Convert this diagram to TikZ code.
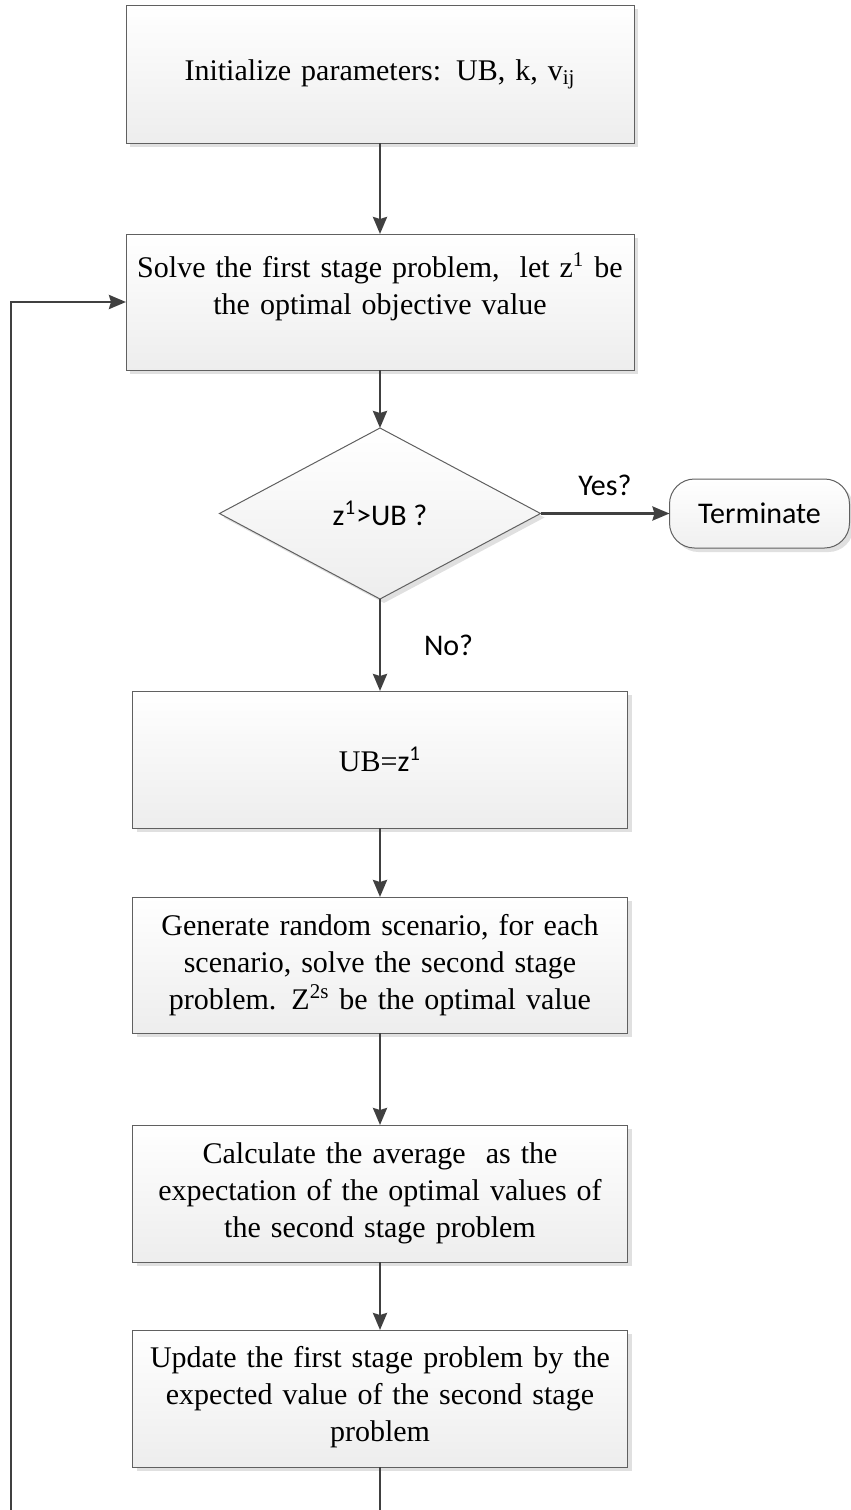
\documentclass[tikz,border=0pt]{standalone}
\usepackage{fontspec}
\setmainfont{Liberation Serif}
\newfontfamily\calibri{Carlito}
\usetikzlibrary{shapes.geometric, arrows.meta, shadows, calc, positioning}

\definecolor{linegray}{HTML}{404040}
\definecolor{bordergray}{HTML}{606060}

\begin{document}
\begin{tikzpicture}[node distance=1pt, outer sep=0pt, font=\fontsize{15}{18.5}\selectfont]

\tikzstyle{box}=[rectangle, draw=bordergray, line width=0.5pt, top color=white, bottom color=black!7, general shadow={fill=black!12, shadow xshift=2pt, shadow yshift=-2pt}, align=center, inner sep=2pt]
\tikzstyle{widebox}=[box, minimum height=68pt, text width=250pt]
\tikzstyle{normalbox}=[box, minimum height=68.5pt, text width=243.5pt]
\tikzstyle{decision}=[diamond, draw=bordergray, line width=0.5pt, top color=white, bottom color=black!7, general shadow={fill=black!12, shadow xshift=2pt, shadow yshift=-2pt}, aspect=1.88, minimum width=160.5pt, minimum height=85.5pt, inner sep=0pt, font=\calibri\fontsize{15}{18}\selectfont]
\tikzstyle{stopbox}=[rectangle, rounded corners=12.5pt, draw=bordergray, line width=0.5pt, top color=white, bottom color=black!6, general shadow={fill=black!12, shadow xshift=2pt, shadow yshift=-2pt}, minimum width=90pt, minimum height=34.5pt, inner sep=0pt, font=\calibri\fontsize{15}{18}\selectfont]
\tikzstyle{answer}=[inner sep=0pt, font=\calibri\fontsize{15}{18}\selectfont]
\tikzstyle{arrow}=[draw=linegray, line width=1.4pt, -{Stealth[length=8.5pt, width=7pt, inset=1pt]}]

\useasboundingbox (0,0) rectangle (425.5pt,-755pt);
\clip (0,0) rectangle (425.5pt,-755pt);

\node[widebox, minimum height=69pt] (init) at (190pt,-37pt) {Initialize parameters: UB, k, v\textsubscript{ij}};
\node[widebox] (solve) [below = 45.5pt of init] {Solve the first stage problem,\ \ let z\textsuperscript{1} be\\the optimal objective value\\\mbox{}};
\node[decision] (check) [below = 29pt of solve] {z\textsuperscript{1}>UB ?};
\node[stopbox] (stop) [right = 64.5pt of check] {Terminate};
\node[normalbox] (setub) [below = 46pt of check] {UB={\calibri z\textsuperscript{1}}};
\node[normalbox, minimum height=68pt] (scen) [below = 34.5pt of setub] {Generate random scenario, for each\\scenario, solve the second stage\\problem. Z\textsuperscript{2s} be the optimal value};
\node[normalbox] (avg) [below = 46pt of scen] {Calculate the average\ \ as the\\expectation of the optimal values of\\the second stage problem};
\node[normalbox] (update) [below = 34pt of avg] {Update the first stage problem by the\\expected value of the second stage\\problem\\[-13.5pt]\mbox{}};

\coordinate (rail) at (5.5pt,-800pt);

\draw[arrow] (init) -- (solve);
\draw[arrow] (solve) -- (check);
\draw[arrow] (check) -- node[answer, midway, above=9pt] {Yes?} (stop);
\draw[arrow] (check) -- node[answer, midway, right=22pt] {No?} (setub);
\draw[arrow] (setub) -- (scen);
\draw[arrow] (scen) -- (avg);
\draw[arrow] (avg) -- (update);
\draw[arrow] (update.south) |- (rail) |- (solve.west);
\end{tikzpicture}
\end{document}
